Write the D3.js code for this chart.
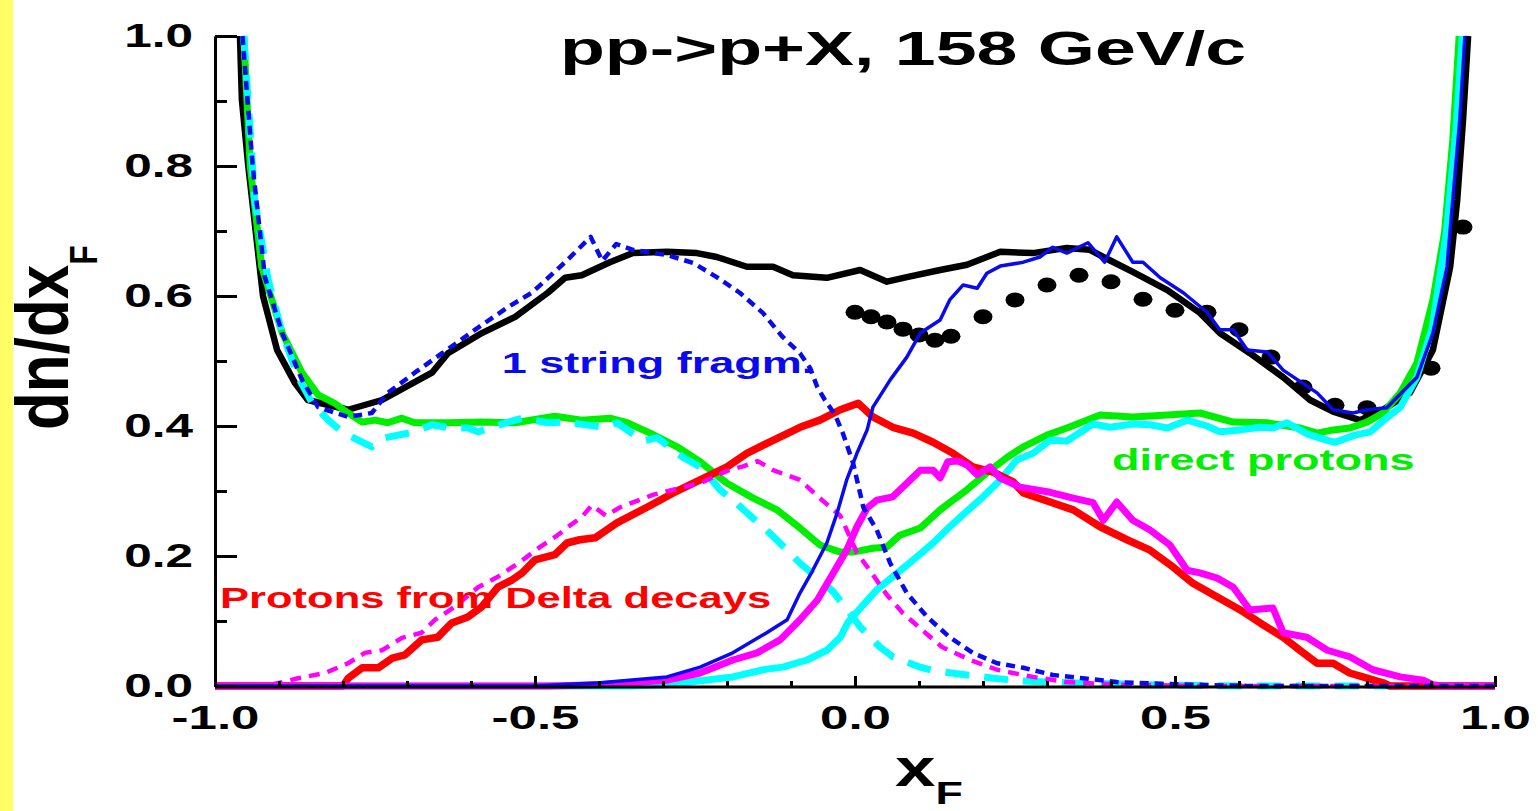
<!DOCTYPE html>
<html>
<head>
<meta charset="utf-8">
<script src="https://cdn.jsdelivr.net/npm/d3@7"></script>
<style>
  body { margin: 0; background: #fff; }
  svg { display: block; }
  text { font-family: "Liberation Sans", Arial, sans-serif; font-weight: bold; }
</style>
</head>
<body>
<div id="container"></div>
<script>
const width = 1538
const height = 811
const SX = 1.5 // the picture is stretched sideways, so is its lettering

//-----------------------------DATA-----------------------------//
// [xF, dn/dxF]
const totalModel = [[-0.961,1.0],[-0.958,0.902],[-0.948,0.8],[-0.942,0.748],[-0.925,0.6],[-0.903,0.517],[-0.875,0.466],[-0.855,0.44],[-0.792,0.425],[-0.739,0.44],[-0.661,0.482],[-0.636,0.512],[-0.583,0.543],[-0.531,0.568],[-0.48,0.605],[-0.453,0.628],[-0.427,0.632],[-0.383,0.652],[-0.347,0.666],[-0.294,0.668],[-0.247,0.666],[-0.216,0.66],[-0.169,0.645],[-0.128,0.645],[-0.097,0.632],[-0.044,0.628],[0.008,0.64],[0.05,0.622],[0.081,0.629],[0.133,0.64],[0.175,0.648],[0.227,0.668],[0.278,0.666],[0.331,0.674],[0.367,0.671],[0.398,0.655],[0.434,0.637],[0.488,0.609],[0.539,0.574],[0.57,0.543],[0.617,0.512],[0.669,0.475],[0.711,0.44],[0.747,0.422],[0.789,0.409],[0.825,0.425],[0.867,0.451],[0.903,0.517],[0.93,0.645],[0.941,0.748],[0.95,0.87],[0.958,1.0]]

const dataPoints = [[0.0,0.575],[0.025,0.568],[0.05,0.56],[0.075,0.549],[0.1,0.54],[0.125,0.532],[0.15,0.538],[0.2,0.568],[0.25,0.594],[0.3,0.617],[0.35,0.632],[0.4,0.622],[0.45,0.595],[0.5,0.578],[0.55,0.575],[0.6,0.548],[0.65,0.506],[0.7,0.46],[0.75,0.432],[0.8,0.428],[0.9,0.489],[0.95,0.706]]

// 1 string fragmentation, forward (solid) and backward (dashed)
const stringFwd = [[-1,0],[-0.5,0],[-0.398,0.005],[-0.294,0.014],[-0.242,0.029],[-0.191,0.051],[-0.138,0.082],[-0.106,0.102],[-0.086,0.143],[-0.066,0.178],[-0.044,0.22],[-0.028,0.266],[-0.013,0.317],[0.003,0.358],[0.019,0.394],[0.028,0.429],[0.055,0.471],[0.081,0.506],[0.102,0.543],[0.133,0.563],[0.148,0.594],[0.169,0.617],[0.191,0.612],[0.206,0.635],[0.227,0.646],[0.263,0.652],[0.289,0.66],[0.309,0.675],[0.331,0.666],[0.364,0.682],[0.39,0.652],[0.409,0.691],[0.434,0.652],[0.45,0.652],[0.477,0.628],[0.513,0.605],[0.55,0.575],[0.57,0.548],[0.591,0.548],[0.613,0.517],[0.644,0.514],[0.669,0.486],[0.722,0.451],[0.747,0.425],[0.778,0.42],[0.8,0.425],[0.831,0.428],[0.878,0.475],[0.903,0.543],[0.925,0.645],[0.934,0.748],[0.945,0.871],[0.953,1.0]]

const stringBwd = [[-0.957,1.0],[-0.941,0.798],[-0.922,0.629],[-0.895,0.543],[-0.864,0.471],[-0.839,0.429],[-0.792,0.414],[-0.755,0.42],[-0.73,0.451],[-0.688,0.482],[-0.645,0.512],[-0.594,0.548],[-0.542,0.583],[-0.505,0.605],[-0.453,0.652],[-0.413,0.691],[-0.395,0.654],[-0.373,0.68],[-0.347,0.671],[-0.294,0.663],[-0.253,0.651],[-0.216,0.629],[-0.18,0.605],[-0.144,0.574],[-0.113,0.537],[-0.086,0.512],[-0.07,0.489],[-0.059,0.46],[-0.047,0.44],[-0.031,0.417],[-0.019,0.389],[-0.003,0.343],[0.013,0.275],[0.034,0.24],[0.055,0.189],[0.081,0.143],[0.113,0.106],[0.148,0.075],[0.184,0.051],[0.222,0.035],[0.263,0.028],[0.309,0.017],[0.356,0.012],[0.409,0.006],[0.488,0.003],[0.617,0],[1,0]]

// direct protons: all (green), backward (cyan dashed), forward (cyan solid)
const directAll = [[-0.955,1.0],[-0.945,0.8],[-0.927,0.645],[-0.895,0.543],[-0.864,0.482],[-0.839,0.448],[-0.813,0.435],[-0.792,0.42],[-0.77,0.406],[-0.75,0.409],[-0.73,0.405],[-0.708,0.412],[-0.688,0.405],[-0.636,0.405],[-0.583,0.406],[-0.531,0.405],[-0.469,0.415],[-0.427,0.409],[-0.383,0.412],[-0.356,0.405],[-0.32,0.389],[-0.278,0.368],[-0.242,0.345],[-0.2,0.312],[-0.159,0.289],[-0.122,0.271],[-0.086,0.243],[-0.055,0.217],[-0.023,0.206],[-0.003,0.206],[0.028,0.212],[0.05,0.214],[0.07,0.232],[0.102,0.243],[0.133,0.271],[0.175,0.302],[0.206,0.328],[0.238,0.352],[0.263,0.368],[0.3,0.386],[0.331,0.397],[0.383,0.417],[0.434,0.414],[0.488,0.417],[0.539,0.42],[0.591,0.406],[0.644,0.405],[0.695,0.397],[0.722,0.389],[0.747,0.394],[0.773,0.397],[0.8,0.406],[0.825,0.42],[0.852,0.451],[0.878,0.497],[0.903,0.594],[0.921,0.697],[0.934,0.84],[0.944,1.0]]

const directBwd = [[-0.955,1.0],[-0.938,0.748],[-0.917,0.625],[-0.895,0.543],[-0.87,0.475],[-0.848,0.435],[-0.823,0.409],[-0.805,0.394],[-0.792,0.386],[-0.755,0.368],[-0.734,0.382],[-0.688,0.391],[-0.661,0.402],[-0.633,0.397],[-0.605,0.397],[-0.589,0.391],[-0.542,0.406],[-0.52,0.412],[-0.48,0.405],[-0.453,0.406],[-0.39,0.398],[-0.372,0.405],[-0.331,0.377],[-0.309,0.382],[-0.269,0.352],[-0.242,0.337],[-0.211,0.302],[-0.191,0.286],[-0.159,0.258],[-0.138,0.24],[-0.106,0.209],[-0.086,0.189],[-0.055,0.163],[-0.034,0.145],[-0.008,0.112],[0.008,0.091],[0.039,0.06],[0.059,0.045],[0.102,0.029],[0.125,0.023],[0.175,0.017],[0.216,0.012],[0.258,0.008],[0.331,0.005],[0.46,0.002],[0.6,0],[1,0]]

const directFwd = [[-1,0],[-0.35,0],[-0.294,0.002],[-0.242,0.008],[-0.191,0.014],[-0.138,0.026],[-0.113,0.029],[-0.075,0.04],[-0.044,0.055],[-0.023,0.075],[-0.011,0.098],[0.013,0.125],[0.034,0.148],[0.059,0.168],[0.091,0.194],[0.122,0.22],[0.148,0.245],[0.175,0.269],[0.2,0.291],[0.227,0.317],[0.253,0.348],[0.278,0.358],[0.305,0.378],[0.331,0.377],[0.372,0.403],[0.398,0.398],[0.434,0.403],[0.461,0.402],[0.488,0.397],[0.519,0.409],[0.55,0.4],[0.57,0.391],[0.602,0.394],[0.633,0.398],[0.653,0.397],[0.675,0.405],[0.706,0.388],[0.738,0.378],[0.75,0.375],[0.781,0.386],[0.805,0.391],[0.825,0.408],[0.852,0.429],[0.878,0.475],[0.902,0.552],[0.924,0.697],[0.939,0.855],[0.949,1.0]]

// protons from Delta decays: all (red), backward (magenta dashed), forward (magenta solid)
const deltaAll = [[-1,0],[-0.8,0],[-0.792,0.012],[-0.77,0.028],[-0.745,0.028],[-0.723,0.043],[-0.703,0.048],[-0.677,0.071],[-0.652,0.075],[-0.63,0.097],[-0.605,0.106],[-0.583,0.122],[-0.558,0.152],[-0.536,0.163],[-0.52,0.174],[-0.5,0.194],[-0.469,0.202],[-0.45,0.22],[-0.43,0.225],[-0.406,0.228],[-0.372,0.251],[-0.325,0.275],[-0.284,0.297],[-0.242,0.317],[-0.2,0.337],[-0.169,0.358],[-0.128,0.378],[-0.086,0.398],[-0.055,0.409],[-0.023,0.425],[0.005,0.435],[0.028,0.414],[0.059,0.398],[0.091,0.389],[0.122,0.375],[0.153,0.358],[0.184,0.337],[0.216,0.329],[0.247,0.314],[0.263,0.297],[0.305,0.283],[0.341,0.271],[0.383,0.245],[0.425,0.225],[0.461,0.209],[0.497,0.183],[0.528,0.158],[0.566,0.137],[0.602,0.117],[0.633,0.097],[0.669,0.075],[0.695,0.055],[0.722,0.035],[0.747,0.035],[0.773,0.02],[0.8,0.012],[0.825,0.005],[0.836,0],[1,0]]

const deltaBwd = [[-1,0],[-0.922,0],[-0.895,0.006],[-0.87,0.012],[-0.828,0.02],[-0.792,0.035],[-0.766,0.051],[-0.739,0.055],[-0.708,0.074],[-0.677,0.082],[-0.656,0.102],[-0.625,0.122],[-0.589,0.152],[-0.558,0.168],[-0.523,0.191],[-0.492,0.214],[-0.466,0.231],[-0.448,0.245],[-0.427,0.26],[-0.411,0.278],[-0.389,0.262],[-0.367,0.275],[-0.316,0.294],[-0.284,0.302],[-0.242,0.312],[-0.2,0.331],[-0.175,0.338],[-0.152,0.346],[-0.128,0.332],[-0.086,0.317],[-0.055,0.289],[-0.023,0.262],[0.003,0.205],[0.023,0.178],[0.05,0.14],[0.075,0.112],[0.105,0.086],[0.136,0.06],[0.18,0.04],[0.222,0.025],[0.278,0.014],[0.331,0.006],[0.414,0.002],[0.54,0],[1,0]]

const deltaFwd = [[-1,0],[-0.48,0],[-0.398,0.002],[-0.294,0.009],[-0.242,0.02],[-0.191,0.04],[-0.153,0.051],[-0.117,0.071],[-0.086,0.102],[-0.059,0.132],[-0.034,0.174],[-0.013,0.209],[0.003,0.245],[0.019,0.274],[0.034,0.286],[0.059,0.291],[0.081,0.312],[0.102,0.332],[0.122,0.332],[0.133,0.32],[0.145,0.345],[0.161,0.346],[0.175,0.34],[0.191,0.325],[0.211,0.337],[0.227,0.32],[0.258,0.306],[0.305,0.298],[0.341,0.289],[0.372,0.282],[0.388,0.255],[0.409,0.283],[0.434,0.255],[0.461,0.24],[0.492,0.217],[0.519,0.178],[0.539,0.174],[0.566,0.166],[0.591,0.152],[0.617,0.117],[0.653,0.12],[0.669,0.082],[0.706,0.075],[0.738,0.055],[0.773,0.045],[0.809,0.025],[0.852,0.014],[0.888,0.009],[0.903,0.002],[0.92,0],[1,0]]

const xMajor = [-1, -0.5, 0, 0.5, 1]
const xMinor = d3.range(-9, 10).map(i => i / 10)
const yMajor = [0, 0.2, 0.4, 0.6, 0.8, 1.0]
const yMinor = [0.1, 0.3, 0.5, 0.7, 0.9]

//----------------------------SCALES----------------------------//
const xScale = d3.scaleLinear().domain([-1, 1]).range([215, 1495])
const yScale = d3.scaleLinear().domain([0, 1]).range([686, 36])
const fmt = d => d.toFixed(1) // plain hyphen, not the unicode minus

const svg = d3.select('div#container').append('svg')
    .attr('width', width)
    .attr('height', height)

svg.append('rect')
    .attr('width', 13).attr('height', height)
    .attr('fill', '#ffff66')

const line = d3.line()
    .x(d => xScale(d[0]))
    .y(d => yScale(d[1]))

//----------------------------MARKS-----------------------------//
svg.append('g').selectAll('ellipse')
    .data(dataPoints)
    .enter()
    .append('ellipse')
    .attr('cx', d => xScale(d[0]))
    .attr('cy', d => yScale(d[1]))
    .attr('rx', 9.5)
    .attr('ry', 7.5)
    .attr('fill', '#000')

const curves = [
    { values: totalModel, color: '#000000', w: 6.5, dash: null },
    { values: directAll, color: '#00ee00', w: 7, dash: null },
    { values: directFwd, color: '#00ffff', w: 7, dash: null },
    { values: directBwd, color: '#00ffff', w: 7, dash: '24,15' },
    { values: deltaAll, color: '#ff0000', w: 7.5, dash: null },
    { values: deltaBwd, color: '#ff00ff', w: 4.5, dash: '11,8' },
    { values: deltaFwd, color: '#ff00ff', w: 7, dash: null },
    { values: stringFwd, color: '#0a0aee', w: 3.5, dash: null },
    { values: stringBwd, color: '#0a0aee', w: 4.5, dash: '9,6' }
]

svg.append('g').selectAll('path')
    .data(curves)
    .enter()
    .append('path')
    .attr('d', d => line(d.values))
    .attr('fill', 'none')
    .attr('stroke', d => d.color)
    .attr('stroke-width', d => d.w)
    .attr('stroke-dasharray', d => d.dash)
    .attr('stroke-linejoin', 'round')

//-----------------------------AXES-----------------------------//
const styleAxis = g => {
    g.selectAll('path, line').attr('stroke', '#000').attr('stroke-width', 3)
    g.selectAll('text').attr('fill', '#000').attr('font-size', 34)
        .style('font-family', '"Liberation Sans", Arial, sans-serif').style('font-weight', 'bold')
}

const gx = svg.append('g')
    .attr('transform', 'translate(0,687)')
    .call(d3.axisBottom(xScale).tickValues(xMinor).tickSizeInner(-6).tickSizeOuter(0).tickFormat(''))
gx.select('.domain').remove()
styleAxis(gx)

const gx2 = svg.append('g')
    .attr('transform', 'translate(0,687)')
    .call(d3.axisBottom(xScale).tickValues(xMajor).tickSizeInner(-11).tickSizeOuter(0).tickFormat(fmt))
styleAxis(gx2)
gx2.selectAll('text').attr('y', 18).attr('transform', `scale(${SX},1)`)
gx2.select('.domain').attr('d', `M${xScale(-1)},0H${xScale(1)}`)

const gy = svg.append('g')
    .attr('transform', 'translate(215,0)')
    .call(d3.axisLeft(yScale).tickValues(yMinor).tickSizeInner(-12).tickSizeOuter(0).tickFormat(''))
gy.select('.domain').remove()
styleAxis(gy)

const gy2 = svg.append('g')
    .attr('transform', 'translate(215,0)')
    .call(d3.axisLeft(yScale).tickValues(yMajor).tickSizeInner(-22).tickSizeOuter(0).tickFormat(fmt))
styleAxis(gy2)
gy2.selectAll('text').attr('x', -22 / SX).attr('font-size', 33).attr('transform', `scale(${SX},1)`)

//----------------------------LABELS----------------------------//
const label = (str, xv, yv, size, color) => svg.append('text')
    .attr('transform', `translate(${xScale(xv)},${yScale(yv)}) scale(${SX},1)`)
    .attr('font-size', size)
    .attr('fill', color)
    .text(str)

label('pp->p+X, 158 GeV/c', -0.461, 0.955, 49, '#000')
label('1 string fragm.', -0.552, 0.4815, 30, '#0a0aee')
label('Protons from Delta decays', -0.992, 0.12, 29, '#ff0000')
label('direct protons', 0.4016, 0.332, 30, '#00ee00')

const xTitle = svg.append('text')
    .attr('transform', `translate(895,786) scale(1.4,1)`)
    .attr('font-size', 52)
    .attr('fill', '#000')
    .text('x')
xTitle.append('tspan').attr('font-size', 32).attr('dy', 18).text('F')

const yTitle = svg.append('text')
    .attr('transform', 'translate(68,430) scale(1.2,1) rotate(-90)')
    .attr('font-size', 62)
    .attr('fill', '#000')
    .text('dn/dx')
yTitle.append('tspan').attr('font-size', 32).attr('dy', 24).text('F')
</script>
</body>
</html>
